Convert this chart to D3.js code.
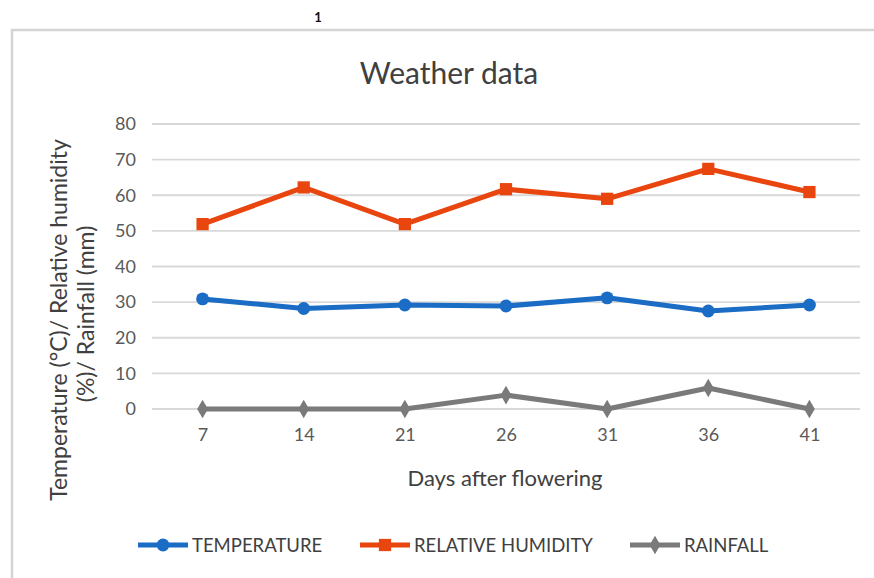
<!DOCTYPE html>
<html>
<head>
<meta charset="utf-8">
<script src="https://cdn.jsdelivr.net/npm/d3@7"></script>
<style>
  body { margin: 0; background: #fff; }
  svg { display: block; font-family: Lato, "Open Sans", sans-serif; }
</style>
</head>
<body>
<svg id="chart" width="874" height="578"></svg>
<script>
// values
var days = ['7', '14', '21', '26', '31', '36', '41'];
var temperature = [30.9, 28.2, 29.2, 28.9, 31.2, 27.5, 29.2];
var humidity = [51.9, 62.2, 51.9, 61.7, 59.0, 67.4, 60.9];
var rainfall = [0, 0, 0, 3.9, 0, 5.9, 0];
var yTicks = [0, 10, 20, 30, 40, 50, 60, 70, 80];
var seriesNames = ['TEMPERATURE', 'RELATIVE HUMIDITY', 'RAINFALL'];

var colors = ['#1a6cc4', '#e8450f', '#7a7a7a'];
var shapes = [d3.symbolCircle, d3.symbolSquare, d3.symbolDiamond];
var shapeSizes = [130, 150, 100];

var svg = d3.select('#chart');

// stray glyph above the frame
svg.append('text').attr('x', 318).attr('y', 22)
  .attr('text-anchor', 'middle')
  .style('font-size', '13px').style('font-weight', 'bold')
  .style('fill', '#111').text('1');

// chart frame
svg.append('rect').attr('x', 12).attr('y', 30)
  .attr('width', 880).attr('height', 570)
  .attr('fill', 'none').attr('stroke', '#d4d4d4').attr('stroke-width', 2.5);

var x = d3.scalePoint().domain(days).range([152, 860]).padding(0.5);
var y = d3.scaleLinear().domain([0, 80]).range([409, 124]);

// gridlines
svg.append('g').selectAll('line').data(yTicks).enter().append('line')
  .attr('x1', 152).attr('x2', 860)
  .attr('y1', function(d) { return y(d); })
  .attr('y2', function(d) { return y(d); })
  .attr('stroke', '#d9d9d9').attr('stroke-width', 1.8);

// y axis labels
var yAxis = svg.append('g').attr('transform', 'translate(136,0)')
  .call(d3.axisLeft(y).tickValues(yTicks).tickSize(0).tickPadding(0));
yAxis.select('.domain').remove();
yAxis.selectAll('text')
  .style('font-family', 'Lato, sans-serif')
  .style('font-size', '18px').style('fill', '#595959');

// x axis labels
var xAxis = svg.append('g').attr('transform', 'translate(0,428)')
  .call(d3.axisBottom(x).tickSize(0).tickPadding(0));
xAxis.select('.domain').remove();
xAxis.selectAll('text')
  .style('font-family', 'Lato, sans-serif')
  .style('font-size', '18px').style('fill', '#595959');

// title and axis titles
svg.append('text').attr('x', 449).attr('y', 84)
  .attr('text-anchor', 'middle')
  .style('font-size', '30px').style('fill', '#404040')
  .text('Weather data');

svg.append('text').attr('x', 505).attr('y', 486)
  .attr('text-anchor', 'middle')
  .style('font-size', '22px').style('fill', '#404040')
  .text('Days after flowering');

var yTitle = svg.append('text')
  .attr('transform', 'translate(67,320) rotate(-90)')
  .attr('text-anchor', 'middle')
  .style('font-size', '23px').style('fill', '#404040');
yTitle.append('tspan').attr('x', 0).attr('dy', 0)
  .text('Temperature (°C)/ Relative humidity');
yTitle.append('tspan').attr('x', 6).attr('dy', 27)
  .text('(%)/ Rainfall (mm)');

// series
var series = [temperature, humidity, rainfall];
var line = d3.line()
  .x(function(d, i) { return x(days[i]); })
  .y(function(d) { return y(d); });

series.forEach(function(values, s) {
  svg.append('path').datum(values)
    .attr('d', line)
    .attr('fill', 'none')
    .attr('stroke', colors[s])
    .attr('stroke-width', 5)
    .attr('stroke-linejoin', 'round');
  svg.append('g').selectAll('path').data(values).enter().append('path')
    .attr('d', d3.symbol().type(shapes[s]).size(shapeSizes[s]))
    .attr('transform', function(d, i) {
      return 'translate(' + x(days[i]) + ',' + y(d) + ')';
    })
    .attr('fill', colors[s]);
});

// legend
var legendX = [138, 360, 630];
series.forEach(function(values, s) {
  var g = svg.append('g').attr('transform', 'translate(' + legendX[s] + ',545)');
  g.append('line').attr('x1', 0).attr('x2', 50)
    .attr('stroke', colors[s]).attr('stroke-width', 5);
  g.append('path')
    .attr('d', d3.symbol().type(shapes[s]).size(shapeSizes[s]))
    .attr('transform', 'translate(25,0)')
    .attr('fill', colors[s]);
  g.append('text').attr('x', 54).attr('y', 7)
    .style('font-size', '18.5px').style('fill', '#404040')
    .text(seriesNames[s]);
});
</script>
</body>
</html>
